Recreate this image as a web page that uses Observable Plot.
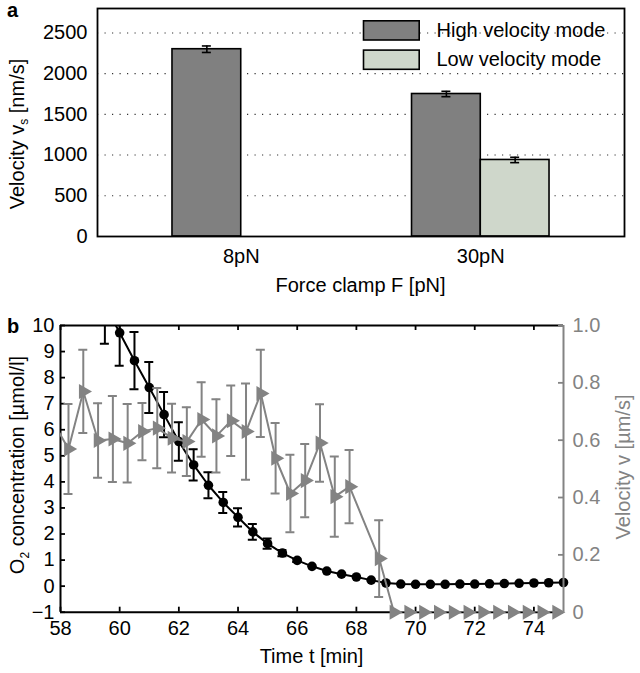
<!DOCTYPE html>
<html>
<head>
<meta charset="utf-8">
<script src="https://cdn.jsdelivr.net/npm/d3@7"></script>
<script src="https://cdn.jsdelivr.net/npm/@observablehq/plot@0.6"></script>
<style>
  html, body { margin: 0; padding: 0; background: #fff; }
  #root { position: relative; width: 640px; height: 673px; overflow: hidden; background: #fff; }
  #root svg { position: absolute; left: 0; }
</style>
</head>
<body>
<div id="root"></div>
<script>
// ---------- Panel a data ----------
const forces = ["8pN", "30pN"];
const modes = ["High velocity mode", "Low velocity mode"];
const highVel = [2300, 1750];
const highErr = [40, 33];
const lowVel = [null, 940];
const lowErr = [null, 33];
const velTicksA = [0, 500, 1000, 1500, 2000, 2500];

// ---------- Panel b data ----------
const tO2 = [59.5, 60, 60.5, 61, 61.5, 62, 62.5, 63, 63.5, 64, 64.5, 65, 65.5, 66, 66.5, 67, 67.5, 68, 68.5, 69, 69.5, 70, 70.5, 71, 71.5, 72, 72.5, 73, 73.5, 74, 74.5, 75];
const o2 = [10.8, 9.72, 8.65, 7.62, 6.58, 5.55, 4.65, 3.87, 3.21, 2.64, 2.08, 1.63, 1.27, 0.99, 0.76, 0.58, 0.46, 0.35, 0.23, 0.12, 0.08, 0.07, 0.07, 0.07, 0.08, 0.08, 0.09, 0.10, 0.11, 0.12, 0.13, 0.14];
const o2Err = [1.5, 1.26, 1.1, 0.98, 0.87, 0.74, 0.6, 0.5, 0.4, 0.35, 0.3, 0.2, 0.12, 0.06, 0, 0, 0, 0, 0, 0, 0, 0, 0, 0, 0, 0, 0, 0, 0, 0, 0, 0];
const tVel = [57.77, 58.27, 58.77, 59.27, 59.77, 60.27, 60.77, 61.27, 61.77, 62.27, 62.77, 63.27, 63.77, 64.27, 64.77, 65.27, 65.77, 66.27, 66.77, 67.27, 67.77, 68.77, 69.27, 69.77, 70.27, 70.77, 71.27, 71.77, 72.27, 72.77, 73.27, 73.77, 74.27, 74.77];
const vel = [0.66, 0.569, 0.77, 0.599, 0.604, 0.589, 0.63, 0.642, 0.607, 0.595, 0.672, 0.615, 0.668, 0.63, 0.763, 0.537, 0.414, 0.459, 0.59, 0.403, 0.438, 0.187, 0, 0, 0, 0, 0, 0, 0, 0, 0, 0, 0, 0];
const velErr = [0.15, 0.157, 0.145, 0.13, 0.15, 0.137, 0.10, 0.14, 0.12, 0.12, 0.13, 0.128, 0.123, 0.168, 0.152, 0.123, 0.135, 0.128, 0.135, 0.14, 0.128, 0.134, 0, 0, 0, 0, 0, 0, 0, 0, 0, 0, 0, 0];
const o2Ticks = [-1, 0, 1, 2, 3, 4, 5, 6, 7, 8, 9, 10];
const velTicksB = [0, 0.2, 0.4, 0.6, 0.8, 1.0];
const timeTicks = [58, 60, 62, 64, 66, 68, 70, 72, 74];

const FONT = "'Liberation Sans', Arial, Helvetica, sans-serif";
const GRAY = "#838383";
const DARK = "#808080";
const LIGHT = "#cfd7cb";

const root = document.getElementById("root");

// ================= Panel a =================
{
  const W = 640, H = 300, mL = 97, mR = 16, mT = 8, mB = 64;
  const barW = 0.287;
  const bars = [];
  forces.forEach((f, i) => {
    if (highVel[i] != null) bars.push({g: i + 1, mode: 0, v: highVel[i], e: highErr[i]});
    if (lowVel[i] != null) bars.push({g: i + 1, mode: 1, v: lowVel[i], e: lowErr[i]});
  });
  const x1 = d => d.mode === 0 ? d.g - barW : d.g;
  const x2 = d => d.mode === 0 ? d.g : d.g + barW;
  const xc = d => d.mode === 0 ? d.g - barW / 2 : d.g + barW / 2;

  const svgA = Plot.plot({
    width: W, height: H,
    marginLeft: mL, marginRight: mR, marginTop: mT, marginBottom: mB,
    style: {fontSize: "20px", fontFamily: FONT, color: "black", background: "transparent", overflow: "visible"},
    x: {domain: [0.4, 2.6]},
    y: {domain: [0, 2800]},
    marks: [
      Plot.ruleY(velTicksA.filter(d => d > 0), {y: d => d, stroke: "#333", strokeWidth: 1.1, strokeDasharray: "1.2,6.3"}),
      Plot.rectY(bars, {x1, x2, y1: 0, y2: "v", fill: d => d.mode === 0 ? DARK : LIGHT, stroke: "black", strokeWidth: 1.6}),
      Plot.ruleX(bars, {x: xc, y1: d => d.v - d.e, y2: d => d.v + d.e, stroke: "black", strokeWidth: 1.6}),
      Plot.ruleY(bars, {x1: xc, x2: xc, y: d => d.v - d.e, insetLeft: -4.5, insetRight: -4.5, stroke: "black", strokeWidth: 1.6}),
      Plot.ruleY(bars, {x1: xc, x2: xc, y: d => d.v + d.e, insetLeft: -4.5, insetRight: -4.5, stroke: "black", strokeWidth: 1.6}),
      Plot.axisY({ticks: velTicksA, tickFormat: d => String(d), tickSize: 0, tickPadding: 10, label: null}),
      Plot.axisX({ticks: [1, 2], tickFormat: i => forces[i - 1], tickSize: 0, tickPadding: 12, label: null}),
      Plot.frame({stroke: "black", strokeWidth: 1.8})
    ]
  });
  svgA.style.top = "0px";
  root.appendChild(svgA);
  const s = d3.select(svgA);
  // panel letter
  s.append("text").attr("x", 7).attr("y", 17).attr("text-anchor", "start").attr("font-weight", "bold").attr("font-size", 20).attr("font-family", FONT).text("a");
  // y label with subscript
  const yl = s.append("text").attr("transform", "translate(24,134) rotate(-90)").attr("text-anchor", "middle")
    .attr("font-size", 20).attr("font-family", FONT).attr("fill", "black");
  yl.append("tspan").text("Velocity v");
  yl.append("tspan").attr("font-size", 12).attr("dy", 4).text("s");
  yl.append("tspan").attr("dy", -4).text(" [nm/s]");
  // x label
  s.append("text").attr("x", (mL + W - mR) / 2).attr("y", 291.5).attr("text-anchor", "middle")
    .attr("font-size", 20).attr("font-family", FONT).text("Force clamp F [pN]");
  // legend
  const leg = s.append("g").attr("font-family", FONT).attr("font-size", 20).attr("text-anchor", "start");
  [[DARK, 20], [LIGHT, 49.3]].forEach(([c, y], i) => {
    leg.append("rect").attr("x", 363.5).attr("y", y + 0.8).attr("width", 55.7).attr("height", 19.2)
      .attr("fill", c).attr("stroke", "black").attr("stroke-width", 1.6);
    leg.append("text").attr("x", 436.5).attr("y", y + 16.5).attr("text-anchor", "start").text(modes[i]);
  });
}

// ================= Panel b =================
{
  const W = 640, H = 373, mL = 60, mR = 77, mT = 25, mB = 61.3;
  const pw = W - mL - mR, ph = H - mT - mB;
  const xDom = [58, 75], yDom = [-1, 10];
  const toY = v => yDom[0] + v * (yDom[1] - yDom[0]);          // velocity (0..1) -> O2 axis units
  const fromY = y => (y - yDom[0]) / (yDom[1] - yDom[0]);

  const O2 = tO2.map((t, i) => ({t, v: o2[i], e: o2Err[i]}));
  const V = tVel.map((t, i) => ({t, v: toY(vel[i]), lo: toY(vel[i] - velErr[i]), hi: toY(vel[i] + velErr[i]), e: velErr[i]}));
  const O2e = O2.filter(d => d.e > 0);
  const Ve = V.filter(d => d.e > 0);
  const O2in = O2.filter(d => d.v <= yDom[1] && d.t >= xDom[0] && d.t <= xDom[1]);
  const Vin = V.filter(d => d.t >= xDom[0] && d.t <= xDom[1]);
  const sw = 2;

  const svgB = Plot.plot({
    width: W, height: H,
    marginLeft: mL, marginRight: mR, marginTop: mT, marginBottom: mB,
    style: {fontSize: "20px", fontFamily: FONT, color: "black", background: "transparent", overflow: "visible"},
    x: {domain: xDom},
    y: {domain: yDom},
    marks: [
      // axes labels
      Plot.axisY({ticks: o2Ticks, tickSize: 0, tickPadding: 6, label: null}),
      Plot.axisY({anchor: "right", ticks: velTicksB.map(toY), tickFormat: y => { const v = Math.round(fromY(y) * 10) / 10; return v === 0 ? "0" : v.toFixed(1); }, tickSize: 0, tickPadding: 9, color: GRAY, label: null}),
      Plot.axisX({ticks: timeTicks, tickSize: 0, tickPadding: 9, label: null}),
      // inward ticks
      Plot.tickY(o2Ticks, {y: d => d, insetRight: pw - 5, stroke: "black", strokeWidth: 1.8}),
      Plot.tickX(timeTicks, {x: d => d, insetTop: ph - 5, stroke: "black", strokeWidth: 1.8}),
      Plot.tickX(timeTicks, {x: d => d, insetBottom: ph - 5, stroke: "black", strokeWidth: 1.8}),
      // axis lines
      Plot.ruleX([xDom[0]], {x: d => d, stroke: "black", strokeWidth: 2}),
      Plot.ruleY([yDom[0]], {y: d => d, stroke: "black", strokeWidth: 2}),
      Plot.ruleY([yDom[1]], {y: d => d, stroke: "black", strokeWidth: 2}),
      // O2 series
      Plot.ruleX(O2e, {x: "t", y1: d => d.v - d.e, y2: d => d.v + d.e, stroke: "black", strokeWidth: sw, clip: true}),
      Plot.ruleY(O2e, {x1: "t", x2: "t", y: d => d.v - d.e, insetLeft: -4.5, insetRight: -4.5, stroke: "black", strokeWidth: sw, clip: true}),
      Plot.ruleY(O2e, {x1: "t", x2: "t", y: d => d.v + d.e, insetLeft: -4.5, insetRight: -4.5, stroke: "black", strokeWidth: sw, clip: true}),
      Plot.line(O2, {x: "t", y: "v", stroke: "black", strokeWidth: sw, clip: true}),
      Plot.dot(O2in, {x: "t", y: "v", r: 4.8, fill: "black", stroke: "none"}),
      // velocity series
      Plot.ruleX(Ve, {x: "t", y1: "lo", y2: "hi", stroke: GRAY, strokeWidth: sw, clip: true}),
      Plot.ruleY(Ve, {x1: "t", x2: "t", y: "lo", insetLeft: -4.5, insetRight: -4.5, stroke: GRAY, strokeWidth: sw, clip: true}),
      Plot.ruleY(Ve, {x1: "t", x2: "t", y: "hi", insetLeft: -4.5, insetRight: -4.5, stroke: GRAY, strokeWidth: sw, clip: true}),
      Plot.line(V, {x: "t", y: "v", stroke: GRAY, strokeWidth: sw, clip: true}),
      // right axis
      Plot.ruleX([xDom[1]], {x: d => d, stroke: GRAY, strokeWidth: 2}),
      Plot.tickY(velTicksB.map(toY), {y: d => d, insetLeft: pw - 5, stroke: GRAY, strokeWidth: 1.8}),
      Plot.dot(Vin, {x: "t", y: "v", symbol: "triangle", rotate: 90, r: 5.6, fill: GRAY, stroke: "none"})
    ]
  });
  svgB.style.top = "300px";
  root.appendChild(svgB);
  const s = d3.select(svgB);
  s.append("text").attr("x", 7).attr("y", 32.7).attr("text-anchor", "start").attr("font-weight", "bold").attr("font-size", 20).attr("font-family", FONT).text("b");
  const yl = s.append("text").attr("transform", "translate(24,165) rotate(-90)").attr("text-anchor", "middle")
    .attr("font-size", 20).attr("font-family", FONT).attr("fill", "black");
  yl.append("tspan").text("O");
  yl.append("tspan").attr("font-size", 12).attr("dy", 5).text("2");
  yl.append("tspan").attr("dy", -5).text(" concentration [µmol/l]");
  s.append("text").attr("transform", "translate(630,167) rotate(-90)").attr("text-anchor", "middle")
    .attr("font-size", 20).attr("font-family", FONT).attr("fill", GRAY).text("Velocity v [µm/s]");
  s.append("text").attr("x", (mL + W - mR) / 2).attr("y", 363).attr("text-anchor", "middle")
    .attr("font-size", 20).attr("font-family", FONT).text("Time t [min]");
}
</script>
</body>
</html>
